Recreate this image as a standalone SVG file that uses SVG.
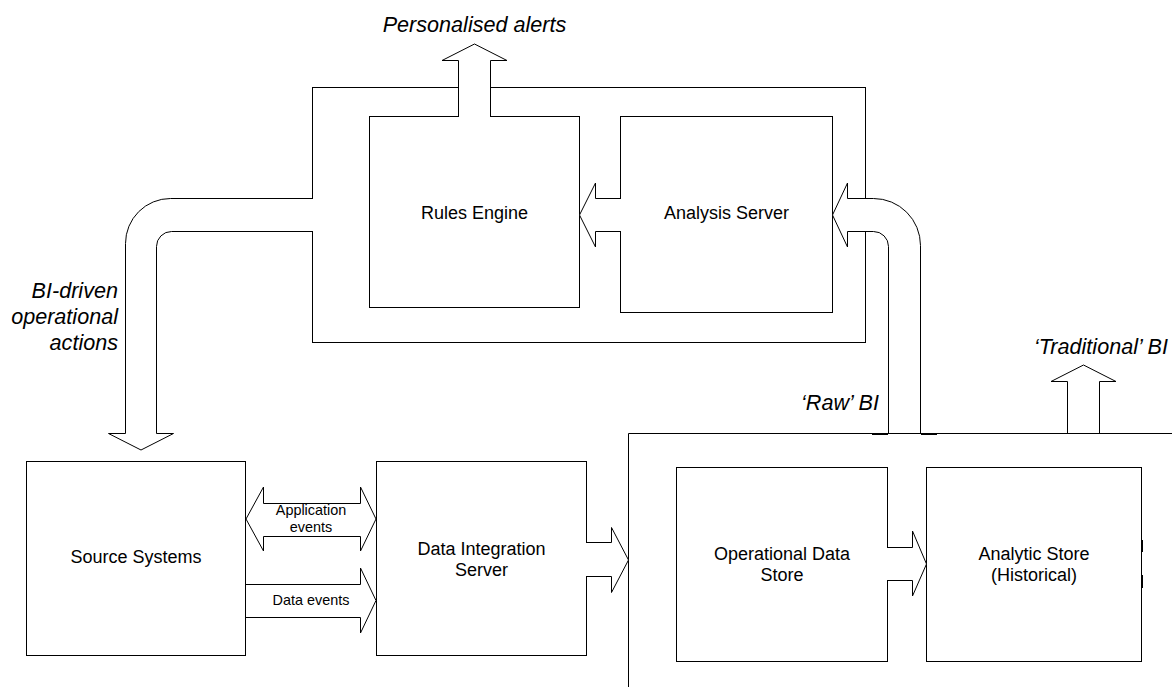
<svg xmlns="http://www.w3.org/2000/svg" width="1172" height="687" viewBox="0 0 1172 687">
<style>
.box{fill:#fff;stroke:#000;stroke-width:1}
.arrow{fill:#fff;stroke:#000;stroke-width:1;stroke-linejoin:miter}
.mark{fill:none;stroke:#000;stroke-width:2}
.lbl{font-family:"Liberation Sans",Arial,sans-serif;font-size:18px;fill:#000;text-anchor:middle}
.small{font-family:"Liberation Sans",Arial,sans-serif;font-size:14.4px;fill:#000;text-anchor:middle}
.ital{font-family:"Liberation Sans",Arial,sans-serif;font-size:21.6px;font-style:italic;fill:#000}
</style>
<rect width="1172" height="687" fill="#fff"/>

<g id="bi-platform">
  <rect class="box" x="312.5" y="87.5" width="553" height="255"/>
</g>
<g id="rules-engine">
  <rect class="box" x="369.5" y="116.5" width="210" height="191"/>
  <text class="lbl" x="474.5" y="218.5">Rules Engine</text>
</g>
<g id="analysis-server">
  <rect class="box" x="620.5" y="116.5" width="212" height="196"/>
  <text class="lbl" x="726.5" y="218.5">Analysis Server</text>
</g>
<g id="source-systems">
  <rect class="box" x="26.5" y="461.5" width="219" height="194"/>
  <text class="lbl" x="136" y="563">Source Systems</text>
</g>
<g id="data-integration-server">
  <rect class="box" x="376.5" y="461.5" width="210" height="194"/>
  <text class="lbl" x="481.5" y="555">Data Integration</text>
  <text class="lbl" x="481.5" y="576">Server</text>
</g>
<g id="data-platform">
  <path class="box" fill="none" d="M628.5,687 V433.5 H1172"/>
</g>
<g id="operational-data-store">
  <rect class="box" x="676.5" y="467.5" width="211" height="194"/>
  <text class="lbl" x="782" y="560">Operational Data</text>
  <text class="lbl" x="782" y="581">Store</text>
</g>
<g id="analytic-store">
  <rect class="box" x="926.5" y="467.5" width="215" height="194"/>
  <path class="mark" d="M1142,540 V552 M1142,575 V588"/>
  <text class="lbl" x="1034" y="560">Analytic Store</text>
  <text class="lbl" x="1034" y="581">(Historical)</text>
</g>

<g id="connectors">
  <path class="arrow" d="M458.5,117 V60.5 H442 L474.5,44 L507,60.5 H490.5 V117"/>
  <path class="arrow" d="M621,198.5 H595.5 V183 L579.5,215 L595.5,247 V231.5 H621"/>
  <path class="arrow" d="M313,198.5 H170.5 A45,45 0 0 0 125.5,243.5 V433.5 H108.5 L141,450 L173.5,433.5 H156.5 V246.5 A15,15 0 0 1 171.5,231.5 H313"/>
  <path class="arrow" d="M888.5,433 V246.5 A15,15 0 0 0 873.5,231.5 H847.5 V247 L832.5,215 L847.5,183 V198.5 H873.5 A47,47 0 0 1 920.5,245.5 V433"/>
  <path class="mark" d="M872,434 H888 M921,434 H937"/>
  <path class="arrow" d="M1067.5,433 V381.5 H1051 L1083.5,365 L1116,381.5 H1099.5 V433"/>
  <path class="arrow" d="M263.5,503.5 V487 L246,519 L263.5,551 V536.5 H360.5 V551 L376,519 L360.5,487 V503.5 Z"/>
  <path class="arrow" d="M246,584.5 H360.5 V568 L376,600.5 L360.5,633 V617.5 H246"/>
  <path class="arrow" d="M586,542.5 H611.5 V527.5 L628.5,560 L611.5,592.5 V576.5 H586"/>
  <path class="arrow" d="M887,547.5 H912.5 V531 L926.5,564 L912.5,596 V580.5 H887"/>
</g>

<g id="labels">
  <text class="ital" x="474.5" y="32" text-anchor="middle">Personalised alerts</text>
  <text class="ital" x="118" y="298" text-anchor="end">BI-driven</text>
  <text class="ital" x="118" y="324" text-anchor="end">operational</text>
  <text class="ital" x="118" y="350" text-anchor="end">actions</text>
  <text class="ital" x="879" y="410" text-anchor="end">‘Raw’ BI</text>
  <text class="ital" x="1168" y="354" text-anchor="end">‘Traditional’ BI</text>
  <text class="small" x="311" y="515">Application</text>
  <text class="small" x="311" y="532">events</text>
  <text class="small" x="311" y="605">Data events</text>
</g>
</svg>
